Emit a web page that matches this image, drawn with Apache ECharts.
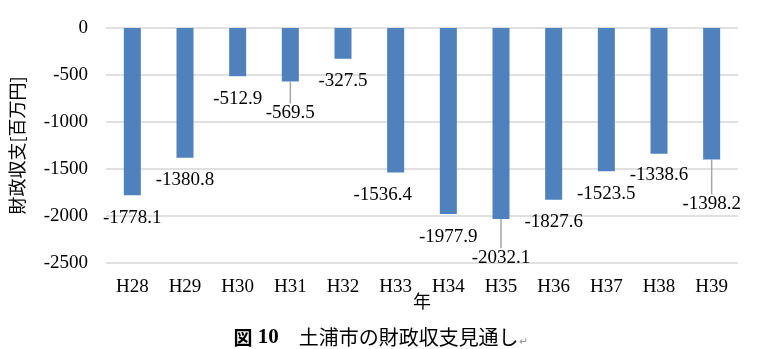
<!DOCTYPE html>
<html>
<head>
<meta charset="utf-8">
<script src="https://cdn.jsdelivr.net/npm/echarts@6/dist/echarts.min.js"></script>
<style>html,body{margin:0;padding:0;background:#fff}#c{width:761px;height:349px}</style>
</head>
<body>
<div id="c"></div>
<script>
// ---- data ----
const categories = ['H28','H29','H30','H31','H32','H33','H34','H35','H36','H37','H38','H39'];
const values = [-1778.1, -1380.8, -512.9, -569.5, -327.5, -1536.4, -1977.9, -2032.1, -1827.6, -1523.5, -1338.6, -1398.2];
const yTicks = [0, -500, -1000, -1500, -2000, -2500];
const yAxisName = '財政収支[百万円]';
const xAxisName = '年';
const captionFig = '図';
const captionNum = ' 10';
const captionText = '土浦市の財政収支見通し';

// ---- label styling (nudges relative to default label placement) ----
const labelDx = [0,0,0,0,0,-13,0,0,0,0,0,0];
const labelDy = [0,0,0,9,0,0,1,16,0,0,-1,22];
const leader = [false,false,false,true,false,false,false,true,false,false,false,true];

const serif = 'Liberation Serif';
const cjk = 'Noto Sans CJK JP';

const chart = echarts.init(document.getElementById('c'), null, {renderer: 'canvas'});
chart.setOption({
  animation: false,
  backgroundColor: '#fff',
  title: {
    left: 'center',
    top: 322,
    text: '{f|' + captionFig + '}{a|' + captionNum + '}{b|　' + captionText + '}{c|↵}',
    textStyle: {
      rich: {
        f: {fontFamily: cjk, fontWeight: 'bold', fontSize: 19, color: '#000'},
        a: {fontFamily: serif, fontWeight: 'bold', fontSize: 21, color: '#000'},
        b: {fontFamily: cjk, fontWeight: 'normal', fontSize: 20, color: '#000'},
        c: {fontFamily: serif, fontWeight: 'normal', fontSize: 11, color: '#999', verticalAlign: 'bottom'}
      }
    }
  },
  grid: {left: 103, right: 23, top: 28, bottom: 86},
  xAxis: {
    type: 'category',
    data: categories,
    position: 'bottom',
    axisLine: {show: false, onZero: false},
    axisTick: {show: false},
    axisLabel: {fontFamily: serif, fontSize: 19, color: '#000', margin: 15},
    name: xAxisName,
    nameLocation: 'middle',
    nameGap: 29,
    nameMoveOverlap: false,
    nameTextStyle: {fontFamily: cjk, fontSize: 18, color: '#000'}
  },
  yAxis: {
    type: 'value',
    min: yTicks[yTicks.length - 1],
    max: yTicks[0],
    interval: 500,
    axisLine: {show: false},
    axisTick: {show: false},
    splitLine: {lineStyle: {color: '#d6d6d6', width: 1.5}},
    axisLabel: {fontFamily: serif, fontSize: 19, color: '#000', margin: 18, formatter: v => String(v)},
    name: yAxisName,
    nameLocation: 'middle',
    nameGap: 80,
    nameRotate: 90,
    nameMoveOverlap: false,
    nameTextStyle: {fontFamily: cjk, fontSize: 18, color: '#000'}
  },
  series: [{
    type: 'bar',
    barWidth: 17,
    itemStyle: {color: '#4f81bd'},
    data: values.map((v, i) => ({
      value: v,
      labelLine: {show: leader[i]}
    })),
    label: {
      show: true,
      position: 'bottom',
      distance: 13,
      fontFamily: serif,
      fontSize: 19,
      color: '#000',
      formatter: p => p.value.toFixed(1)
    },
    labelLine: {show: false, lineStyle: {color: '#a6a6a6', width: 1.5}},
    labelLayout: p => ({dx: labelDx[p.dataIndex], dy: labelDy[p.dataIndex]})
  }]
});
</script>
</body>
</html>
